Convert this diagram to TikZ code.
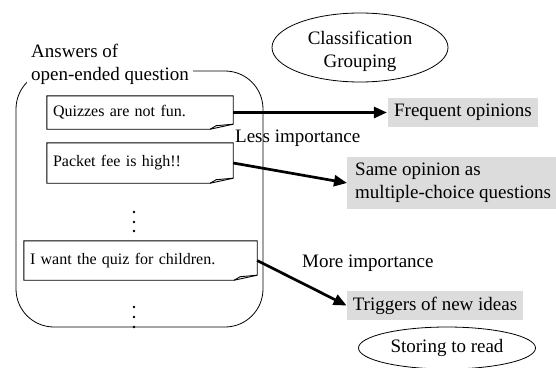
\documentclass[tikz,border=0pt]{standalone}
\usepackage{fontspec}
\setmainfont{Liberation Serif}
\usetikzlibrary{arrows.meta,shapes.geometric}
\definecolor{boxgray}{RGB}{220,220,220}
\tikzset{
  bigfont/.style={font=\fontsize{19}{23}\selectfont},
  notefont/.style={font=\fontsize{16}{19}\selectfont},
  notebox/.style={notefont, inner xsep=6pt, inner ysep=0pt, align=left},
  notefold/.style={line width=0.9pt, line join=miter},
  graybox/.style={bigfont, fill=boxgray, inner xsep=6pt, inner ysep=0pt, align=left},
  oval/.style={bigfont, ellipse, draw, line width=0.8pt, inner sep=0pt, align=center},
  flow/.style={line width=2.7pt, -{Triangle[length=13pt,width=11pt]}},
  lbl/.style={bigfont, inner sep=0pt, anchor=base west},
}
\begin{document}
\begin{tikzpicture}[x=1pt,y=-1pt]
\useasboundingbox (0,0) rectangle (556,367);

% container of the collected answers
\draw[line width=0.8pt, rounded corners=38pt] (16,71) rectangle (263,327);
\node[bigfont, fill=white, align=left, inner xsep=4pt, inner ysep=2pt, anchor=west]
  (title) at (27,64) {Answers of\\open-ended question};

% answer notes
\node[notebox, text width=174pt, minimum height=33pt] (n1) at (140,112.5) {Quizzes are not fun.};
\node[notebox, text width=174pt, minimum height=40pt] (n2) at (140,163) {Packet fee is high!!};
\node[notebox, text width=221pt, minimum height=39pt] (n3) at (140.5,260.5) {I want the quiz for children.};
\foreach \n in {n1,n2,n3}{
  \draw[notefold] (\n.north west) -- (\n.north east) -- ([yshift=5pt]\n.south east)
    -- ([xshift=-23pt]\n.south east) -- (\n.south west) -- cycle;
  \draw[notefold] ([xshift=-23pt]\n.south east) -- ([xshift=-17pt,yshift=3.5pt]\n.south east)
    -- ([yshift=5pt]\n.south east);
}

% ellipsis dots
\foreach \y in {212,222,231,307,317,327}
  \fill (134,\y) circle (1.4pt);

% classification
\node[oval, minimum width=176pt, minimum height=69pt] (cls) at (360,47.5) {};
\node[bigfont, align=center, inner sep=0pt] (clstext) at (360,51) {Classification\\Grouping};
\node[graybox, minimum height=29pt] (freq) at (463,112.5) {Frequent opinions};
\node[graybox, minimum height=52pt, inner xsep=8pt, anchor=west] (same) at (347,183) {Same opinion as\\multiple-choice questions};
\node[graybox, minimum height=29pt] (trig) at (435,305.5) {Triggers of new ideas};
\node[oval, minimum width=177pt, minimum height=42pt] (store) at (447,348) {Storing to read};

\node[lbl] (less) at (235,142) {Less importance};
\node[lbl] (more) at (302,267) {More importance};

% connectors
\draw[flow, shorten >=1pt] (n1.east) -- (freq.west);
\draw[flow] (n2.east) -- (same.west);
\draw[flow] (n3.east) -- (trig.west);
\end{tikzpicture}
\end{document}
